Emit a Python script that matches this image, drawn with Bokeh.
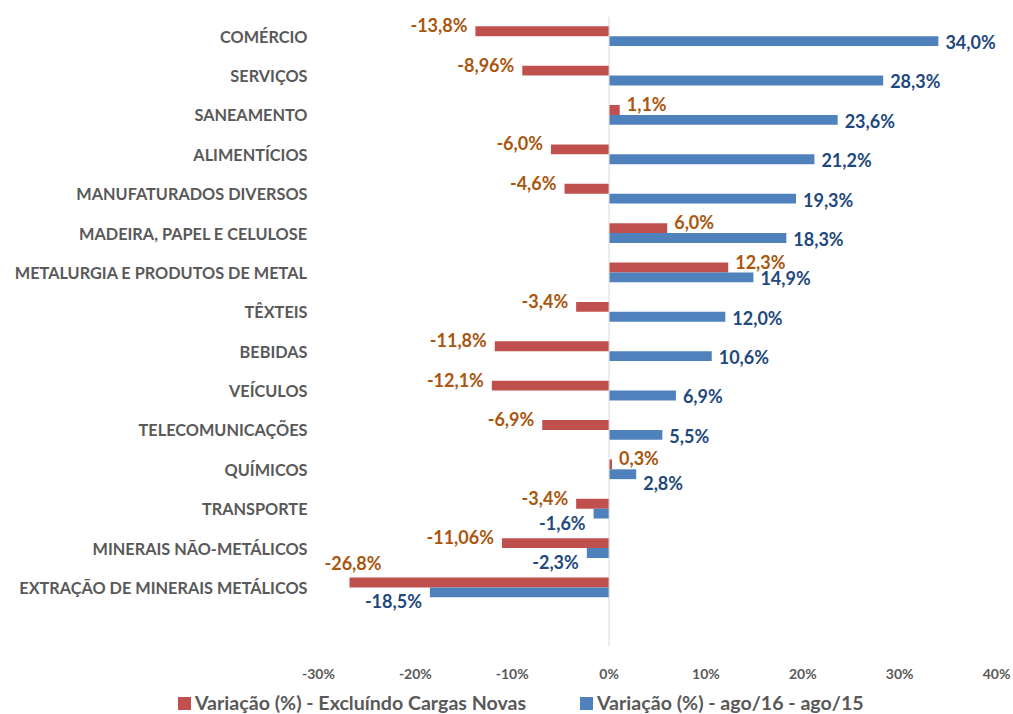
from bokeh.plotting import figure
from bokeh.layouts import column
from bokeh.models import ColumnDataSource, FixedTicker, Span, Div
from bokeh.core.properties import value
from bokeh.embed import file_html
from bokeh.resources import INLINE

categories = [
    "COMÉRCIO", "SERVIÇOS", "SANEAMENTO", "ALIMENTÍCIOS", "MANUFATURADOS DIVERSOS",
    "MADEIRA, PAPEL E CELULOSE", "METALURGIA E PRODUTOS DE METAL", "TÊXTEIS",
    "BEBIDAS", "VEÍCULOS", "TELECOMUNICAÇÕES", "QUÍMICOS", "TRANSPORTE",
    "MINERAIS NÃO-METÁLICOS", "EXTRAÇÃO DE MINERAIS METÁLICOS",
]
excl_cargas_novas = [-13.8, -8.96, 1.1, -6.0, -4.6, 6.0, 12.3, -3.4, -11.8, -12.1, -6.9, 0.3, -3.4, -11.06, -26.8]
excl_labels = ["-13,8%", "-8,96%", "1,1%", "-6,0%", "-4,6%", "6,0%", "12,3%", "-3,4%", "-11,8%",
               "-12,1%", "-6,9%", "0,3%", "-3,4%", "-11,06%", "-26,8%"]
var_ago = [34.0, 28.3, 23.6, 21.2, 19.3, 18.3, 14.9, 12.0, 10.6, 6.9, 5.5, 2.8, -1.6, -2.3, -18.5]
var_labels = ["34,0%", "28,3%", "23,6%", "21,2%", "19,3%", "18,3%", "14,9%", "12,0%", "10,6%",
              "6,9%", "5,5%", "2,8%", "-1,6%", "-2,3%", "-18,5%"]
x_ticks = [-30, -20, -10, 0, 10, 20, 30, 40]
x_tick_labels = ["-30%", "-20%", "-10%", "0%", "10%", "20%", "30%", "40%"]
series_names = ["Variação (%) - Excluíndo Cargas Novas", "Variação (%) - ago/16 - ago/15"]

RED = "#C0504D"
BLUE = "#4F81BD"
RED_TXT = "#A9560E"
BLUE_TXT = "#1F497D"
GRAY = "#595959"
FONT = "Lato"

W = 1013
H1, H2 = 684, 30
LEFT, RIGHT, TOP, BOTTOM = 318, 17, 16, 34
XMIN, XMAX = x_ticks[0], x_ticks[-1]
n = len(categories)

p = figure(width=W, height=H1, output_backend="svg", toolbar_location=None,
           x_range=(XMIN, XMAX), y_range=(n + 0.5, -0.5),
           min_border_left=LEFT, min_border_right=RIGHT,
           min_border_top=TOP, min_border_bottom=BOTTOM)
p.outline_line_color = None
p.grid.visible = False

idx = list(range(n))
bh = 0.25
p.hbar(y=[i - bh / 2 for i in idx], right=excl_cargas_novas, left=0, height=bh,
       fill_color=RED, line_color=None)
p.hbar(y=[i + bh / 2 for i in idx], right=var_ago, left=0, height=bh,
       fill_color=BLUE, line_color=None)

p.add_layout(Span(location=0, dimension="height", line_color="#D9D9D9", line_width=1))

# data labels
ppu = (W - LEFT - RIGHT) / (XMAX - XMIN)
char_w = 9.8


def label_cols(vals, texts, yoff_base, dy, low_shift):
    cols = {"l": dict(x=[], y=[], t=[], xo=[], yo=[]), "r": dict(x=[], y=[], t=[], xo=[], yo=[])}
    for i, (v, t) in enumerate(zip(vals, texts)):
        y = i + dy
        yo = yoff_base + (low_shift if v < 3 else 0)
        if v >= 0:
            side, xo, x = "l", 7, v
        else:
            width = len(t) * char_w
            if (v - XMIN) * ppu - 8 - width < 0:
                # does not fit beside the bar: left-align at the frame edge, above the bar
                side, xo, yo, x = "l", 6, -20, XMIN
            else:
                side, xo, x = "r", -8, v
        cols[side]["x"].append(x); cols[side]["xo"].append(xo)
        cols[side]["y"].append(y); cols[side]["yo"].append(yo)
        cols[side]["t"].append(t)
    return cols


for vals, texts, yo, dy, col, low in [
    (excl_cargas_novas, excl_labels, -6, -bh / 2, RED_TXT, 0),
    (var_ago, var_labels, 1, bh / 2, BLUE_TXT, 8),
]:
    c = label_cols(vals, texts, yo, dy, low)
    for side, align in (("l", "left"), ("r", "right")):
        d = c[side]
        if not d["x"]:
            continue
        src = ColumnDataSource(dict(x=d["x"], y=d["y"], t=d["t"], xo=d["xo"], yo=d["yo"]))
        p.text(x="x", y="y", text="t", x_offset="xo", y_offset="yo", source=src,
               text_align=align, text_baseline="middle", text_color=col,
               text_font=value(FONT), text_font_style="bold", text_font_size="18px")

# x axis
xa = p.xaxis[0]
xa.ticker = FixedTicker(ticks=x_ticks)
xa.major_label_overrides = {t: s for t, s in zip(x_ticks, x_tick_labels)}
xa.axis_line_color = None
xa.major_tick_line_color = None
xa.minor_tick_line_color = None
xa.major_label_standoff = 12
xa.major_label_text_font = FONT
xa.major_label_text_font_style = "bold"
xa.major_label_text_font_size = "14px"
xa.major_label_text_color = GRAY

# y axis
ya = p.yaxis[0]
ya.ticker = FixedTicker(ticks=idx)
ya.major_label_overrides = {i: c for i, c in zip(idx, categories)}
ya.axis_line_color = None
ya.major_tick_line_color = None
ya.minor_tick_line_color = None
ya.major_label_standoff = 5
ya.major_label_text_font = FONT
ya.major_label_text_font_style = "bold"
ya.major_label_text_font_size = "16.3px"
ya.major_label_text_color = GRAY

# legend strip (HTML)
legend_items = [(series_names[0], RED, 178), (series_names[1], BLUE, 580)]
parts = []
for name, colr, left in legend_items:
    parts.append(
        f'<div style="position:absolute;left:{left}px;top:0;height:{H2}px;display:flex;'
        f'align-items:center;white-space:nowrap;">'
        f'<span style="display:inline-block;width:13px;height:13px;background:{colr};'
        f'margin-right:4px;margin-top:8px;"></span>'
        f'<span style="margin-top:7px;">{name}</span></div>'
    )
legend_html = (
    f'<div style="position:relative;width:{W}px;height:{H2}px;font-family:{FONT};'
    f'font-weight:bold;font-size:19.6px;color:{GRAY};line-height:1;">' + "".join(parts) + "</div>"
)
lg = Div(text=legend_html, width=W, height=H2, margin=0)

layout = column(p, lg, spacing=0)
open("out.html", "w").write(file_html(layout, INLINE))
